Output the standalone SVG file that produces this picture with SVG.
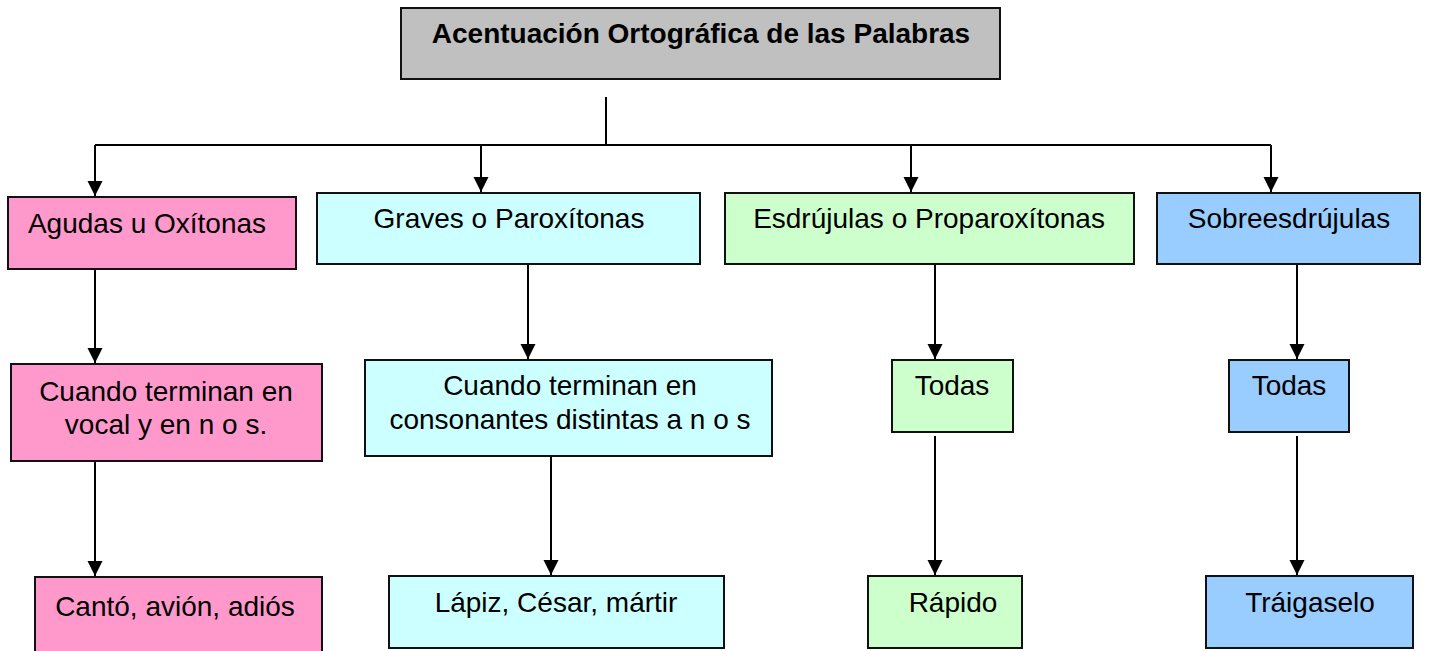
<svg xmlns="http://www.w3.org/2000/svg" width="1429" height="651" viewBox="0 0 1429 651">
<style>
.box{stroke:#111;stroke-width:2}
.gray{fill:#c0c0c0}.pink{fill:#ff99cc}.cyan{fill:#ccffff}.green{fill:#ccffcc}.blue{fill:#99ccff}
text{font-family:"Liberation Sans",Arial,sans-serif;font-size:28px;fill:#000;text-anchor:middle}
.title{font-weight:bold;font-size:28px}
.conn{stroke:#000;stroke-width:2;fill:none}
</style>
<defs>
<marker id="arr" markerUnits="userSpaceOnUse" markerWidth="16" markerHeight="16" refX="15" refY="7.5" orient="auto">
<path d="M0,0 L15,7.5 L0,15 z" fill="#000"/>
</marker>
</defs>
<g id="connectors">
<polyline class="conn" points="606,97 606,145"/>
<polyline class="conn" points="95,145 1271,145"/>
<line class="conn" x1="95" y1="145" x2="95" y2="196" marker-end="url(#arr)"/>
<line class="conn" x1="481" y1="145" x2="481" y2="192" marker-end="url(#arr)"/>
<line class="conn" x1="911" y1="145" x2="911" y2="192" marker-end="url(#arr)"/>
<line class="conn" x1="1271" y1="145" x2="1271" y2="192" marker-end="url(#arr)"/>
<line class="conn" x1="95" y1="265" x2="95" y2="363" marker-end="url(#arr)"/>
<line class="conn" x1="528" y1="264" x2="528" y2="359" marker-end="url(#arr)"/>
<line class="conn" x1="935" y1="264" x2="935" y2="359" marker-end="url(#arr)"/>
<line class="conn" x1="1297" y1="264" x2="1297" y2="359" marker-end="url(#arr)"/>
<line class="conn" x1="95" y1="457" x2="95" y2="576" marker-end="url(#arr)"/>
<line class="conn" x1="551" y1="456" x2="551" y2="575" marker-end="url(#arr)"/>
<line class="conn" x1="935" y1="436" x2="935" y2="575" marker-end="url(#arr)"/>
<line class="conn" x1="1297" y1="436" x2="1297" y2="575" marker-end="url(#arr)"/>
</g>
<g id="root">
<rect class="box gray" x="401" y="8" width="599" height="71"/>
<text class="title" x="701" y="43">Acentuación Ortográfica de las Palabras</text>
</g>
<g id="agudas">
<rect class="box pink" x="8" y="197" width="288" height="72"/>
<text x="147" y="233">Agudas u Oxítonas</text>
</g>
<g id="graves">
<rect class="box cyan" x="317" y="193" width="383" height="71"/>
<text x="509" y="228">Graves o Paroxítonas</text>
</g>
<g id="esdrujulas">
<rect class="box green" x="725" y="193" width="409" height="71"/>
<text x="929" y="228">Esdrújulas o Proparoxítonas</text>
</g>
<g id="sobreesdrujulas">
<rect class="box blue" x="1157" y="193" width="263" height="71"/>
<text x="1289" y="228">Sobreesdrújulas</text>
</g>
<g id="agudas-regla">
<rect class="box pink" x="11" y="364" width="311" height="97"/>
<text x="166" y="401">Cuando terminan en</text>
<text x="166" y="434">vocal y en n o s.</text>
</g>
<g id="graves-regla">
<rect class="box cyan" x="365" y="360" width="407" height="96"/>
<text x="570" y="395">Cuando terminan en</text>
<text x="570" y="429">consonantes distintas a n o s</text>
</g>
<g id="esdrujulas-regla">
<rect class="box green" x="892" y="360" width="121" height="72"/>
<text x="952" y="395">Todas</text>
</g>
<g id="sobreesdrujulas-regla">
<rect class="box blue" x="1229" y="360" width="120" height="72"/>
<text x="1289" y="395">Todas</text>
</g>
<g id="agudas-ejemplo">
<rect class="box pink" x="35" y="577" width="287" height="80"/>
<text x="175" y="616">Cantó, avión, adiós</text>
</g>
<g id="graves-ejemplo">
<rect class="box cyan" x="389" y="576" width="335" height="72"/>
<text x="556" y="612">Lápiz, César, mártir</text>
</g>
<g id="esdrujulas-ejemplo">
<rect class="box green" x="868" y="576" width="154" height="72"/>
<text x="953" y="612">Rápido</text>
</g>
<g id="sobreesdrujulas-ejemplo">
<rect class="box blue" x="1206" y="576" width="207" height="72"/>
<text x="1310" y="612">Tráigaselo</text>
</g>
</svg>
